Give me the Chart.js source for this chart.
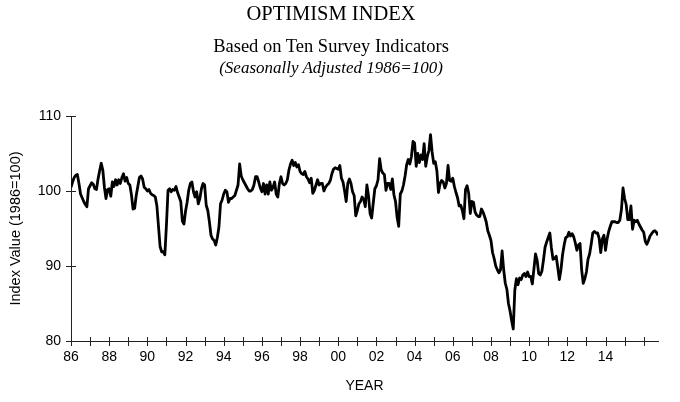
<!DOCTYPE html>
<html lang="pt-BR">
<head>
<meta charset="utf-8">
<title>Optimism Index</title>
<script src="https://cdn.jsdelivr.net/npm/chart.js@4.4.1/dist/chart.umd.min.js"></script>
<style>
  body { margin: 0; background: #fff; }
  #quadro { position: relative; width: 680px; height: 402px; }
  #grafico { position: absolute; left: 0; top: 0; }
  .titulo { position: absolute; left: 0; width: 662px; text-align: center; color: #000; white-space: nowrap;
            font-family: "Liberation Serif", "Times New Roman", serif; }
  #t1 { top: 1px; font-size: 20.5px; line-height: 24px; }
  #t2 { top: 35px; font-size: 18.5px; line-height: 22px; }
  #t3 { top: 58px; font-size: 17px; line-height: 20px; font-style: italic; }
</style>
</head>
<body>
<div id="quadro">
  <canvas id="grafico" width="680" height="402"></canvas>
  <div class="titulo" id="t1">OPTIMISM INDEX</div>
  <div class="titulo" id="t2">Based on Ten Survey Indicators</div>
  <div class="titulo" id="t3">(Seasonally Adjusted 1986=100)</div>
</div>
<script>
// serie mensal, comeca em jan/1986
const anoInicial = 1986;
const indice = [
  100.5, 101.2, 101.8, 102.1, 102.2, 101.0, 99.6, 99.1, 98.6, 98.2, 97.9, 100.3,   // 86
  100.7, 101.1, 100.9, 100.3, 100.2, 101.6, 102.7, 103.7, 102.8, 100.5, 99.0, 100.2, // 87
  100.3, 99.3, 101.2, 100.6, 101.5, 100.8, 101.5, 101.0, 101.8, 102.3, 101.3, 101.8, // 88
  101.0, 100.8, 99.5, 97.6, 97.7, 99.4, 100.6, 101.8, 102.0, 101.6, 100.5, 100.3,   // 89
  100.0, 100.2, 99.7, 99.5, 99.4, 99.2, 98.0, 95.3, 92.6, 91.9, 91.9, 91.5,         // 90
  95.5, 100.1, 100.3, 99.9, 100.2, 100.1, 100.6, 99.8, 99.2, 98.6, 96.0, 95.6,      // 91
  97.3, 98.5, 100.1, 101.0, 101.2, 99.9, 99.2, 99.9, 98.3, 99.0, 100.3, 101.0,      // 92
  100.8, 98.1, 97.4, 95.9, 94.1, 93.6, 93.4, 92.8, 93.8, 95.2, 98.3, 98.8,          // 93
  99.6, 100.1, 99.9, 98.5, 99.0, 99.0, 99.2, 99.4, 100.1, 100.8, 103.6, 102.0,      // 94
  101.5, 101.1, 100.7, 100.3, 100.0, 100.0, 100.2, 100.8, 101.9, 101.9, 101.2, 100.4, // 95
  99.9, 101.0, 99.6, 100.8, 99.6, 101.2, 100.1, 100.5, 101.2, 99.6, 99.2, 101.0,    // 96
  101.9, 101.0, 100.8, 101.0, 101.5, 102.8, 103.6, 104.1, 103.4, 103.8, 103.2, 103.5, // 97
  102.6, 102.3, 102.2, 102.6, 101.9, 101.6, 101.1, 101.7, 99.7, 100.1, 100.8, 101.5, // 98
  100.8, 101.0, 101.0, 100.0, 100.5, 100.8, 101.0, 101.4, 102.3, 102.9, 103.1, 103.0, // 99
  102.9, 103.4, 101.7, 101.2, 100.0, 98.6, 101.0, 101.6, 101.0, 99.9, 99.4, 96.7,   // 00
  97.4, 98.3, 98.6, 99.2, 98.9, 97.9, 100.8, 99.4, 97.0, 96.4, 98.4, 100.3,         // 01
  100.7, 101.5, 104.3, 102.8, 102.4, 102.2, 100.1, 101.0, 101.0, 100.2, 101.6, 99.5, // 02
  98.6, 96.5, 95.3, 99.6, 100.0, 100.8, 102.0, 103.5, 104.2, 103.6, 104.6, 106.6,   // 03
  106.4, 103.3, 105.0, 103.8, 104.8, 104.2, 106.3, 103.3, 104.6, 105.4, 107.5, 105.2, // 04
  103.7, 103.9, 102.7, 99.8, 101.0, 101.4, 101.2, 100.4, 101.0, 103.4, 101.4, 101.3, // 05
  101.7, 100.6, 99.8, 99.1, 98.0, 98.1, 97.4, 96.3, 100.2, 100.7, 99.7, 97.0,       // 06
  98.6, 98.5, 97.2, 96.8, 96.6, 96.6, 97.6, 97.2, 96.6, 95.9, 94.7, 94.1,           // 07
  93.4, 91.8, 91.0, 90.0, 89.5, 89.1, 89.5, 92.0, 89.5, 87.7, 86.9, 85.0,           // 08
  84.0, 82.7, 81.6, 86.8, 88.3, 87.5, 88.4, 88.2, 88.8, 89.0, 88.6, 89.2,           // 09
  88.6, 88.6, 87.6, 89.6, 91.6, 90.8, 89.0, 88.8, 89.3, 90.8, 92.5, 93.2,           // 10
  93.8, 94.4, 92.4, 90.9, 91.0, 91.3, 89.8, 88.2, 89.5, 91.5, 92.8, 93.8,           // 11
  93.9, 94.5, 94.0, 94.3, 93.9, 93.1, 92.1, 92.8, 93.0, 89.5, 87.7, 88.3,           // 12
  89.2, 90.9, 91.6, 92.9, 94.4, 94.6, 94.4, 94.4, 93.7, 91.8, 93.6, 94.1,           // 13
  92.1, 93.6, 94.6, 95.3, 95.9, 95.9, 95.9, 95.8, 95.8, 96.1, 97.5, 100.4,          // 14
  99.0, 98.2, 96.2, 96.2, 98.0, 94.9, 96.1, 95.9, 96.1, 95.6, 95.2, 94.8,           // 15
  94.5, 93.3, 92.9, 93.4, 94.0, 94.3, 94.6, 94.7, 94.5, 94.1                        // 16
];

// so os anos pares ate 14 tem rotulo no eixo
const anosComRotulo = [1986, 1988, 1990, 1992, 1994, 1996, 1998, 2000, 2002, 2004, 2006, 2008, 2010, 2012, 2014];
const rotulosAnos = ['86', '88', '90', '92', '94', '96', '98', '00', '02', '04', '06', '08', '10', '12', '14'];
const ticksY = [80, 90, 100, 110];

// cada mes vira um ano decimal
const meses = indice.map((v, i) => anoInicial + i / 12);
const pontos = indice.map((v, i) => ({ x: meses[i], y: v }));

// os tracinhos do eixo cruzam a linha (metade pra dentro, metade pra fora)
const ticksCruzados = {
  id: 'ticksCruzados',
  afterDraw(chart) {
    const { ctx, chartArea, scales: { x, y } } = chart;
    ctx.save();
    ctx.strokeStyle = '#222';
    ctx.lineWidth = 1;
    ctx.beginPath();
    x.ticks.forEach(t => {
      const px = Math.round(x.getPixelForValue(t.value)) + 0.5;
      ctx.moveTo(px, chartArea.bottom - 4);
      ctx.lineTo(px, chartArea.bottom + 5);
    });
    ticksY.forEach(v => {
      const py = Math.round(y.getPixelForValue(v)) + 0.5;
      ctx.moveTo(chartArea.left - 5, py);
      ctx.lineTo(chartArea.left + 5, py);
    });
    ctx.stroke();
    ctx.restore();
  }
};

const fonteEixo = { family: '"Liberation Sans", Arial, sans-serif', size: 14 };

const ctx = document.getElementById('grafico').getContext('2d');
new Chart(ctx, {
  type: 'line',
  data: {
    datasets: [{
      data: pontos,
      borderColor: '#000',
      borderWidth: 2.8,
      pointRadius: 0,
      tension: 0,
      borderJoinStyle: 'round'
    }]
  },
  options: {
    responsive: false,
    animation: false,
    layout: { padding: { top: 116, right: 22, bottom: 0, left: 0 } },
    plugins: { legend: { display: false }, tooltip: { enabled: false } },
    scales: {
      x: {
        type: 'linear',
        min: 1986,
        max: 2016.75,
        grid: { display: false, drawTicks: false },
        border: { display: true, color: '#222', width: 1 },
        ticks: {
          stepSize: 1,
          includeBounds: false,
          autoSkip: false,
          maxRotation: 0,
          padding: 8,
          color: '#000',
          font: fonteEixo,
          callback: (valor) => {
            const pos = anosComRotulo.indexOf(valor);
            return pos >= 0 ? rotulosAnos[pos] : '';
          }
        },
        title: { display: true, text: 'YEAR', color: '#000', font: fonteEixo, padding: { top: 0, bottom: 7 } },
        afterFit: (escala) => { escala.height = 61; }
      },
      y: {
        min: 80,
        max: 110,
        grid: { display: false, drawTicks: false },
        border: { display: true, color: '#222', width: 1 },
        ticks: { stepSize: 10, padding: 10, color: '#000', font: fonteEixo },
        title: { display: true, text: 'Index Value (1986=100)', color: '#000', font: { family: fonteEixo.family, size: 14.5 }, padding: { top: 7, bottom: 0 } },
        afterFit: (escala) => { escala.width = 71; }
      }
    }
  },
  plugins: [ticksCruzados]
});
</script>
</body>
</html>
